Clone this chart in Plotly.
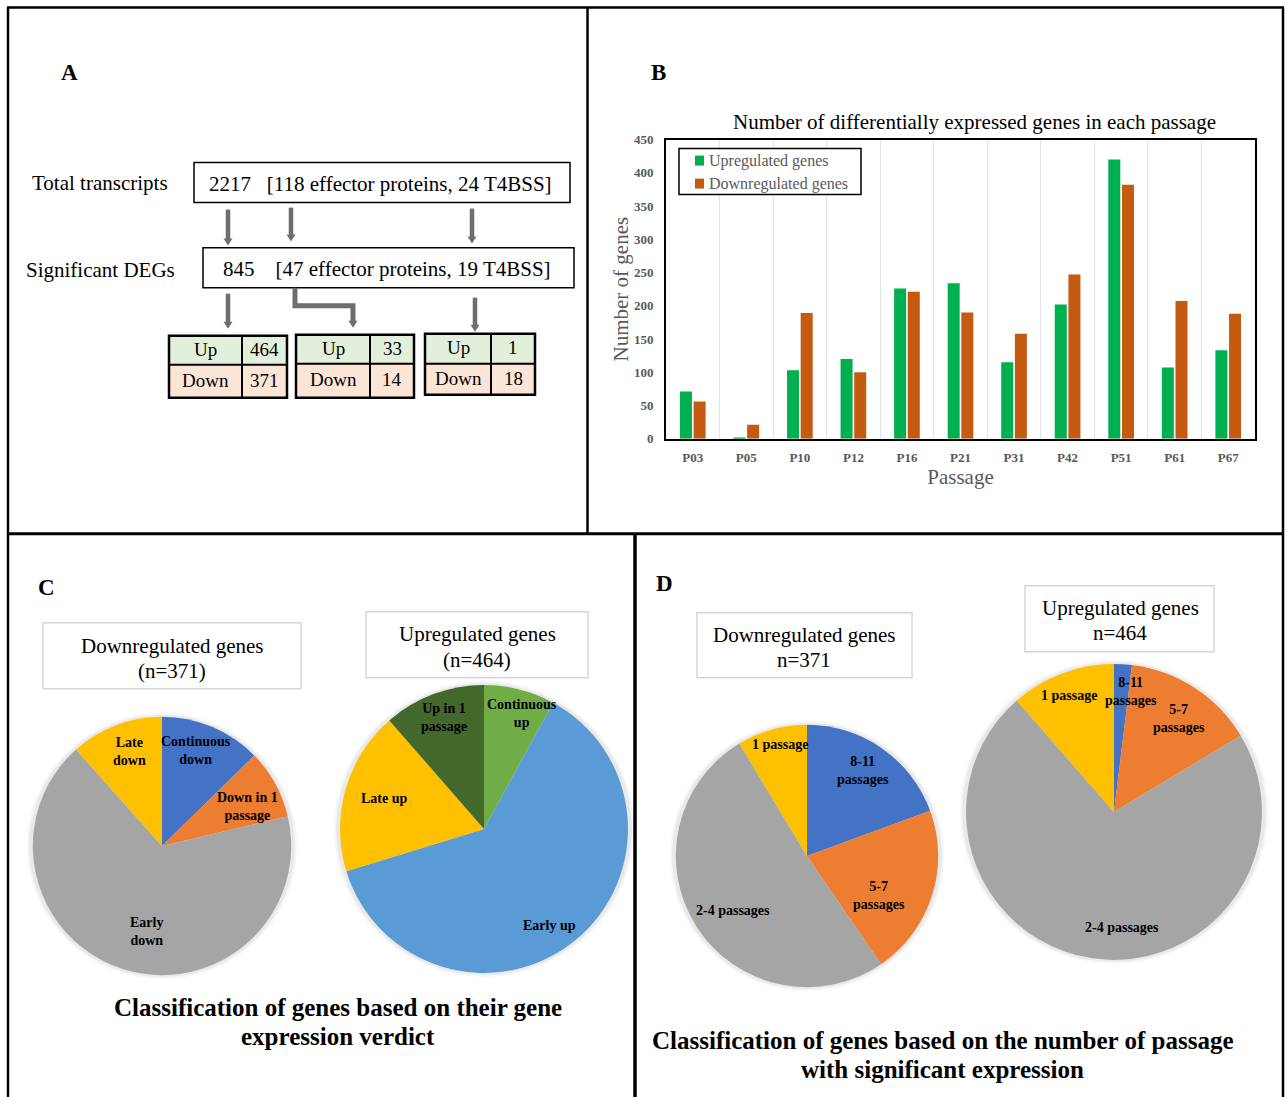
import math
import plotly.graph_objects as go

W, H = 1285, 1097
FONT = "Liberation Serif, Times New Roman, serif"

# ---------------- data ----------------
# Panel B: DEGs per passage
passages = ["P03", "P05", "P10", "P12", "P16", "P21", "P31", "P42", "P51", "P61", "P67"]
up_counts = [71, 2, 103, 120, 226, 234, 115, 202, 420, 107, 133]
down_counts = [56, 21, 189, 100, 221, 190, 158, 247, 382, 207, 188]
series_names = ["Upregulated genes", "Downregulated genes"]
series_colors = ["#00b050", "#c55a11"]

# Panel A: transcript summary
total_line = ["2217", "[118 effector proteins, 24 T4BSS]"]
sig_line = ["845", "[47 effector proteins, 19 T4BSS]"]
table_up = [464, 33, 1]
table_down = [371, 14, 18]

# Panel C: expression verdict
verdict_down_labels = ["Continuous<br>down", "Down in 1<br>passage", "Early<br>down", "Late<br>down"]
verdict_down_values = [47, 32, 249, 43]
verdict_up_labels = ["Continuous<br>up", "Early up", "Late up", "Up in 1<br>passage"]
verdict_up_values = [37, 289, 85, 53]

# Panel D: number of passages with significant expression
passage_down_labels = ["8-11<br>passages", "5-7<br>passages", "2-4 passages", "1 passage"]
passage_down_values = [72, 78, 189, 32]
passage_up_labels = ["8-11<br>passages", "5-7<br>passages", "2-4 passages", "1 passage"]
passage_up_values = [9, 67, 335, 53]

# ---------------- layout helpers (positions given in page pixels) ----------------
# vertical placement: the page is shown with a small band above and below,
# so layout rows are laid out on a slightly stretched vertical grid
Y_OFF, Y_SCALE = 6.5, 0.9858


def fx(px):
    return px / W


def fy(py):
    return 1 - ((py - Y_OFF) / Y_SCALE) / H


shapes = []
annotations = []


def text(x, y, s, size, bold=False, color="black", xanchor="center"):
    annotations.append(dict(
        x=fx(x), y=fy(y), xref="paper", yref="paper",
        text=f"<b>{s}</b>" if bold else s, showarrow=False,
        font=dict(family=FONT, size=size, color=color),
        xanchor=xanchor, yanchor="middle",
    ))


def line(x0, y0, x1, y1, color="black", width=2):
    shapes.append(dict(type="line", xref="paper", yref="paper",
                       x0=fx(x0), y0=min(fy(y0), 0.9995), x1=fx(x1), y1=min(fy(y1), 0.9995),
                       line=dict(color=color, width=width)))


def rect(x0, y0, x1, y1, fill="white", color="black", width=1.5, layer="above"):
    shapes.append(dict(type="rect", xref="paper", yref="paper",
                       x0=fx(x0), y0=fy(y0), x1=fx(x1), y1=fy(y1),
                       fillcolor=fill, layer=layer,
                       line=dict(color=color, width=width)))


def path(points, color, width=0, fill=None, closed=False):
    d = "M " + " L ".join(f"{fx(x):.5f},{fy(y):.5f}" for x, y in points)
    if closed:
        d += " Z"
    shapes.append(dict(type="path", xref="paper", yref="paper", path=d,
                       fillcolor=fill if fill else "rgba(0,0,0,0)",
                       line=dict(color=color, width=width)))


ARROW = "#6e6e6e"


def head(x, ytip):
    path([(x - 4.5, ytip - 7), (x + 4.5, ytip - 7), (x, ytip)], ARROW, 0, ARROW, True)


def arrow_down(x, y0, y1):
    line(x, y0, x, y1 - 6, ARROW, 4.5)
    head(x, y1)


# ---------------- panel frames ----------------
line(7, 4, 1284, 4, "black", 2.5)
line(8, 4, 8, 1110, "black", 2.5)
line(1283, 4, 1283, 1110, "black", 2.5)
line(8, 533, 1283, 533, "black", 3)
line(587.5, 4, 587.5, 533, "black", 2.5)
line(635, 533, 635, 1110, "black", 3.5)

# ---------------- panel A ----------------
text(69, 72, "A", 23, bold=True)
text(100, 182, "Total transcripts", 21)
text(100, 269, "Significant DEGs", 21)
rect(194, 162, 570, 202, color="black", width=1.5)
rect(203, 247, 574, 287, color="black", width=1.5)
text(380, 183, total_line[0] + "\u00a0\u00a0\u00a0" + total_line[1], 21)
text(387, 268, sig_line[0] + "\u00a0\u00a0\u00a0\u00a0" + sig_line[1], 21)

arrow_down(228, 209, 245)
arrow_down(291, 207, 241)
arrow_down(472, 208, 243)
arrow_down(228, 293, 328)
arrow_down(475, 297, 331)
path([(295, 287), (295, 305), (353, 305), (353, 321)], ARROW, 5)
head(353, 327)

tables = [(169, 242, 287, 335, 364, 397), (296, 370, 414, 334, 363, 397), (425, 491, 535, 333, 363, 394)]
for (x0, xm, x1, y0, ym, y1), u, dn in zip(tables, table_up, table_down):
    rect(x0, y0, x1, ym, fill="#e2efda", color="black", width=0)
    rect(x0, ym, x1, y1, fill="#fbe5d6", color="black", width=0)
    rect(x0, y0, x1, y1, fill="rgba(0,0,0,0)", color="black", width=2.5)
    line(x0, ym, x1, ym, "black", 2)
    line(xm, y0, xm, y1, "black", 2)
    text((x0 + xm) / 2, (y0 + ym) / 2 - 1, "Up", 19)
    text((xm + x1) / 2, (y0 + ym) / 2 - 1, str(u), 19)
    text((x0 + xm) / 2, (ym + y1) / 2 - 1, "Down", 19)
    text((xm + x1) / 2, (ym + y1) / 2 - 1, str(dn), 19)

# ---------------- panel B ----------------
text(658, 72, "B", 23, bold=True)
text(974, 121, "Number of differentially expressed genes in each passage", 21)

GREY = "#595959"
fig = go.Figure()
for name, vals, col in zip(series_names, [up_counts, down_counts], series_colors):
    fig.add_trace(go.Bar(x=passages, y=vals, name=name, showlegend=False,
                         marker=dict(color=col, line=dict(width=0))))

# boxed key in the upper-left corner of the bar chart
rect(679, 148, 861, 194, fill="white", color="black", width=1.5)
for i, (name, col) in enumerate(zip(series_names, series_colors)):
    yc = 160 + 23 * i
    rect(695, yc - 5, 704, yc + 5, fill=col, color=col, width=0)
    text(707, yc, name, 16, color=GREY, xanchor="left")

# ---------------- panels C and D (pies) ----------------
text(46, 587, "C", 23, bold=True)
text(664, 583, "D", 23, bold=True)

pies = [
    dict(labels=verdict_down_labels, values=verdict_down_values, cx=162, cy=845, r=131,
         colors=["#4472c4", "#ed7d31", "#a5a5a5", "#ffc000"],
         shift=[-3, 4, -7, 2], rad=[0.77, 0.72, 0.66, 0.76]),
    dict(labels=verdict_up_labels, values=verdict_up_values, cx=484, cy=828, r=146,
         colors=["#70ad47", "#5b9bd5", "#ffc000", "#43682b"],
         shift=[4, 5, 1, 1], rad=[0.83, 0.80, 0.71, 0.81]),
    dict(labels=passage_down_labels, values=passage_down_values, cx=807, cy=855, r=133,
         colors=["#4472c4", "#ed7d31", "#a5a5a5", "#ffc000"],
         shift=[-1.5, 11, -4, 2], rad=[0.77, 0.62, 0.69, 0.86]),
    dict(labels=passage_up_labels, values=passage_up_values, cx=1114, cy=811, r=150,
         colors=["#4472c4", "#ed7d31", "#a5a5a5", "#ffc000"],
         shift=[4.5, 2, -13, -0.6], rad=[0.81, 0.76, 0.77, 0.83]),
]

for p in pies:
    cx, cy, r = p["cx"], p["cy"], p["r"]
    # square domain in page pixels keeps the pie round
    cyp = (cy - Y_OFF) / Y_SCALE
    dom_y = [1 - (cyp + r) / H, 1 - (cyp - r) / H]
    for extra, alpha in [(4, 0.035), (2, 0.05)]:
        shapes.append(dict(type="circle", xref="paper", yref="paper", layer="below",
                           x0=fx(cx - r - extra), x1=fx(cx + r + extra),
                           y0=1 - (cyp + r + extra) / H, y1=1 - (cyp - r - extra) / H,
                           fillcolor=f"rgba(0,0,0,{alpha})", line=dict(width=0)))
    fig.add_trace(go.Pie(
        labels=p["labels"], values=p["values"], sort=False, direction="clockwise",
        rotation=0, textinfo="none", hoverinfo="label+value", showlegend=False,
        marker=dict(colors=p["colors"], line=dict(width=0)),
        domain=dict(x=[fx(cx - r), fx(cx + r)], y=dom_y),
    ))
    total = sum(p["values"])
    cum = 0
    for lab, v, sh, rf in zip(p["labels"], p["values"], p["shift"], p["rad"]):
        mid = (cum + v / 2) / total * 360 + sh
        cum += v
        ang = math.radians(mid)
        text(cx + rf * r * math.sin(ang), cy - rf * r * math.cos(ang), lab, 14, bold=True)

# title boxes above pies
boxes = [
    (43, 622, 301, 688, 172, 645, 670, "Downregulated genes", "(n=371)"),
    (366, 611, 588, 677, 477, 633, 659, "Upregulated genes", "(n=464)"),
    (697, 612, 912, 677, 804, 634, 659, "Downregulated genes", "n=371"),
    (1025, 585, 1214, 651, 1120, 607, 632, "Upregulated genes", "n=464"),
]
for x0, y0, x1, y1, tx, t1, t2, l1, l2 in boxes:
    rect(x0, y0, x1, y1, fill="white", color="#d6d6d6", width=1.5, layer="below")
    text(tx, t1, l1, 21)
    text(tx, t2, l2, 21)

text(338, 1006, "Classification of genes based on their gene", 25, bold=True)
text(338, 1035, "expression verdict", 25, bold=True)
text(943, 1039, "Classification of genes based on the number of passage", 25, bold=True)
text(943, 1068, "with significant expression", 25, bold=True)

fig.update_layout(
    width=W, height=H, margin=dict(l=0, r=0, t=0, b=0),
    paper_bgcolor="white", plot_bgcolor="white",
    font=dict(family=FONT), showlegend=False,
    barmode="group", bargap=0.49, bargroupgap=0.12,
    xaxis=dict(domain=[fx(666), fx(1255)], type="category", tickson="boundaries",
               showgrid=True, gridcolor="#e3e3e3", gridwidth=1, ticks="",
               showline=True, linecolor="black", linewidth=2, mirror=True,
               tickfont=dict(family=FONT, size=13, color=GREY, weight="bold"),
               ticklabelstandoff=6,
               title=dict(text="Passage", font=dict(family=FONT, size=21, color=GREY), standoff=3),
               fixedrange=True),
    yaxis=dict(domain=[fy(438), fy(139)], range=[0, 450], dtick=50, showgrid=False,
               zeroline=False, ticks="",
               showline=True, linecolor="black", linewidth=2, mirror=True,
               tickfont=dict(family=FONT, size=13, color=GREY, weight="bold"),
               ticklabelstandoff=8,
               title=dict(text="Number of genes", font=dict(family=FONT, size=21, color=GREY), standoff=0),
               fixedrange=True),
    shapes=shapes, annotations=annotations,
)

fig.write_html("out.html")
